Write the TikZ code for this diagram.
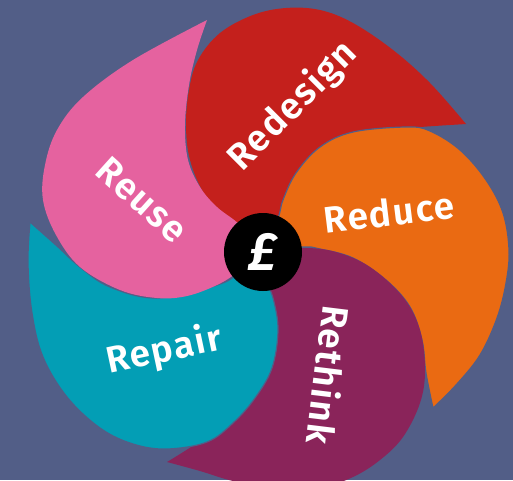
\documentclass[tikz,border=0pt]{standalone}
\usepackage{fontspec}
\setmainfont{Fira Sans}[BoldFont={Fira Sans SemiBold}, BoldItalicFont={Fira Sans SemiBold Italic}]
\definecolor{bg}{HTML}{525E87}
\definecolor{cred}{HTML}{C4201C}
\definecolor{corange}{HTML}{EA6A12}
\definecolor{cpurple}{HTML}{8A245A}
\definecolor{cteal}{HTML}{039EB5}
\definecolor{cpink}{HTML}{E5629F}
\tikzset{
  lbl/.style={text=white, font=\fontsize{37}{40}\selectfont\bfseries\addfontfeatures{LetterSpace=4}, inner sep=0pt},
  petalsep/.style={draw=bg, line width=1.2pt, line join=round}
}
\begin{document}
\begin{tikzpicture}[x=1pt,y=-1pt]
\useasboundingbox (0,0) rectangle (513,480);
\fill[bg] (0,0) rectangle (513,480);
% Redesign
\fill[cred] plot[smooth, tension=0.6] coordinates {(263,252) (230,222) (205,195) (190,160) (186,125) (189,90) (198,60) (220,33) (253,15) (286,8) (320,10) (353,23) (393,50) (430,83) (466,124)}
  -- plot[smooth, tension=0.6] coordinates {(466,124) (420,127) (386,130) (353,137) (326,150) (305,170) (290,192) (280,215) (263,252)} -- cycle;
% Reduce
\fill[corange, petalsep] plot[smooth, tension=0.6] coordinates {(263,252) (278,218) (283,200) (296,173) (320,147) (353,132) (406,127) (430,131) (460,150) (486,180) (503,213) (509,250) (506,283) (497,318) (480,355) (456,385) (433,408)}
  -- plot[smooth, tension=0.6] coordinates {(433,408) (426,373) (422,340) (410,307) (386,280) (353,258) (320,249) (303,247) (263,252)} -- cycle;
% Rethink
\fill[cpurple] plot[smooth, tension=0.6] coordinates {(263,252) (303,248) (336,252) (370,267) (403,297) (420,330) (425,370) (420,403) (403,437) (380,460) (353,477) (320,488) (280,490) (233,481) (200,471) (167,462)}
  -- plot[smooth, tension=0.6] coordinates {(167,462) (200,441) (233,415) (253,395) (268,368) (275,330) (270,297) (262,273) (263,252)} -- cycle;
% Repair
\fill[cteal, petalsep] plot[smooth, tension=0.6] coordinates {(263,252) (264,275) (273,298) (278,330) (272,368) (255,398) (233,423) (207,442) (167,449) (133,444) (100,428) (67,397) (43,357) (32,313) (28,263) (30,222)}
  -- plot[smooth, tension=0.6] coordinates {(30,222) (57,246) (80,267) (110,287) (157,298) (217,285) (240,272) (263,252)} -- cycle;
% Reuse
\fill[cpink] plot[smooth, tension=0.6] coordinates {(263,252) (238,272) (217,285) (187,296) (157,298) (120,290) (80,267) (56,235) (43,200) (45,165) (57,130) (83,97) (133,60) (207,20)}
  -- plot[smooth, tension=0.6] coordinates {(207,20) (197,50) (189,85) (185,125) (188,160) (200,187) (217,207) (240,225) (263,252)} -- cycle;
% labels
\node[lbl, rotate=45] (redesign) at (293,106) {Redesign};
\node[lbl, rotate=7] (reduce) at (389,212) {Reduce};
\node[lbl, rotate=-97] (rethink) at (329,375) {Rethink};
\node[lbl, rotate=12] (repair) at (164,351) {Repair};
\node[lbl, rotate=-42] (reuse) at (142,200) {Reuse};
% centre
\node[circle, fill=black, minimum size=78pt, inner sep=0pt, text=white, font=\fontsize{54}{60}\selectfont\bfseries\itshape] (pound) at (263,252) {£};
\end{tikzpicture}
\end{document}
